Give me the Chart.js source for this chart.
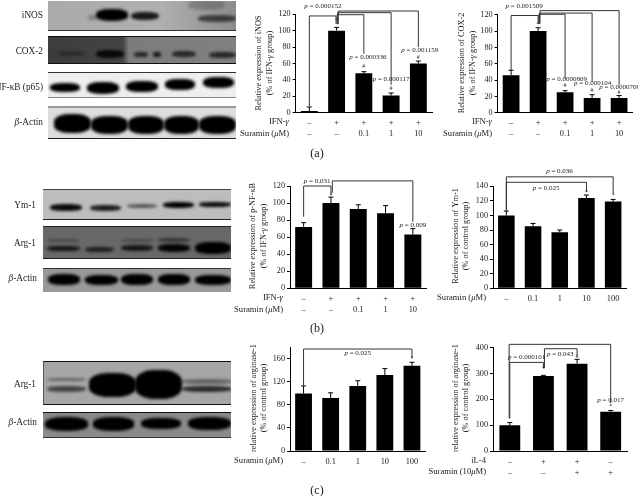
<!DOCTYPE html>
<html>
<head>
<meta charset="utf-8">
<title>Suramin western blots and expression charts</title>
<script src="https://cdn.jsdelivr.net/npm/chart.js@4/dist/chart.umd.min.js"></script>
<style>
    html, body { margin: 0; padding: 0; background: #fff; overflow: hidden; }
    #page { position: relative; width: 638px; height: 496px; filter: blur(0.3px); font-family: 'Liberation Serif', serif; color: #222; }
    #page canvas { position: absolute; }
    .blot { position: absolute; overflow: hidden; box-sizing: border-box; }
    .band { position: absolute; border-radius: 40%; background: #000; filter: blur(1.6px); }
    .blot-label { position: absolute; font-size: 9.3px; white-space: nowrap; transform: translate(-100%, -50%); }
    .panel-label { position: absolute; font-size: 12px; transform: translate(-50%, -50%); }
</style>
</head>
<body>
<div id="page"></div>
<script>
const ifnRow = ['–', '+', '+', '+', '+'];
const suraminRow = ['–', '–', '0.1', '1', '10'];
const suraminDoses = ['–', '0.1', '1', '10', '100'];
const il4Row = ['–', '+', '+', '–'];
const suramin10Row = ['–', '–', '+', '+'];

const inosValues = [2, 100, 48, 21, 60];
const inosUpper = [7, 104, 50, 24, 63];
const cox2Values = [46, 100, 25, 18, 18];
const cox2Upper = [52, 104, 27, 22, 21];
const nfkbValues = [72, 100, 93, 88, 63];
const nfkbUpper = [77, 107, 98, 97, 70];
const ym1Values = [100, 85, 77, 124, 119];
const ym1Upper = [106, 89, 80, 128, 122];
const argValues = [100, 92, 113, 132, 148];
const argUpper = [113, 101, 122, 143, 154];
const argIl4Values = [100, 290, 338, 152];
const argIl4Upper = [110, 293, 355, 157];

// brackets: from/to are bar indexes, level is the y value of the top line, dropFrom/dropTo where the legs stop
const inosBrackets = [
    { from: 0, to: 0.98, level: 118, dropFrom: 8, dropTo: 108 },
    { from: 1.02, to: 2, level: 119.5, dropFrom: 108, dropTo: 72 },
    { from: 1.04, to: 3, level: 122, dropFrom: 108, dropTo: 34 },
    { from: 1.06, to: 4, level: 124, dropFrom: 108, dropTo: 80 }
];
const cox2Brackets = [
    { from: 0, to: 1, level: 119, dropFrom: 52, dropTo: 109 },
    { from: 1.03, to: 2, level: 120.5, dropFrom: 109, dropTo: 42 },
    { from: 1.05, to: 3, level: 122, dropFrom: 109, dropTo: 38 },
    { from: 1.07, to: 4, level: 125, dropFrom: 109, dropTo: 34 }
];
const nfkbBrackets = [
    { from: 0, to: 1, level: 120, dropFrom: 84, dropTo: 110 },
    { from: 1.05, to: 4, level: 126, dropFrom: 112, dropTo: 78 }
];
const ym1Brackets = [
    { from: 0, to: 3, level: 145.5, dropFrom: 105, dropTo: 132.7 },
    { from: 0, to: 4, level: 153, dropFrom: 105, dropTo: 130 }
];
const argBrackets = [
    { from: 0, to: 4, level: 177, dropFrom: 114, dropTo: 161 }
];
const argIl4Brackets = [
    { from: 0, to: 1, level: 343, dropFrom: 126, dropTo: 320 },
    { from: 1.03, to: 2, level: 396, dropFrom: 320, dropTo: 371 },
    { from: -0.02, to: 3, level: 413, dropFrom: 126, dropTo: 185 }
];

// notes: at = bar index, value = y value, stars/hashes and p values
const inosNotes = [
    { at: 0.5, value: 130, text: '*p* = 0.000152' },
    { at: 2.15, value: 67.6, text: '*p* = 0.000336' },
    { at: 3, value: 41.5, text: '*p* = 0.000117' },
    { at: 4.05, value: 76.6, text: '*p* = 0.001159' },
    { at: 1, value: 112, text: '*' },
    { at: 2, value: 57, text: '#' },
    { at: 3, value: 30, text: '#' },
    { at: 4, value: 68, text: '#' }
];
const cox2Notes = [
    { at: 0.48, value: 130, text: '*p* = 0.001509' },
    { at: 2.06, value: 41.6, text: '*p* = 0.0000809' },
    { at: 3.02, value: 36.7, text: '*p* = 0.000104' },
    { at: 4.02, value: 31.8, text: '*p* = 0.0000708' },
    { at: 1, value: 108.6, text: '*' },
    { at: 2, value: 33, text: '#' },
    { at: 3, value: 27, text: '#' },
    { at: 4, value: 25, text: '#' }
];
const nfkbNotes = [
    { at: 0.49, value: 126, text: '*p* = 0.031' },
    { at: 4, value: 74, text: '*p* = 0.009' },
    { at: 1, value: 109, text: '*' }
];
const ym1Notes = [
    { at: 1.49, value: 138, text: '*p* = 0.025' },
    { at: 1.99, value: 161, text: '*p* = 0.036' },
    { at: 3, value: 131, text: '*' },
    { at: 4, value: 127.6, text: '*' }
];
const argNotes = [
    { at: 2, value: 169.6, text: '*p* = 0.025' },
    { at: 4, value: 161, text: '*' }
];
const argIl4Notes = [
    { at: 0.5, value: 364, text: '*p* = 0.000101' },
    { at: 1.5, value: 375, text: '*p* = 0.043' },
    { at: 3, value: 195, text: '*p* = 0.017' },
    { at: 1, value: 320, text: '*' },
    { at: 2, value: 365, text: '#' },
    { at: 3, value: 171, text: '*' }
];

const FONT = "'Liberation Serif', serif";
const $page = document.getElementById('page');

//------------------------------BLOTS------------------------------

// box is [left, top, width, height]; bands are [x1, x2, y1, y2, alpha] in page pixels
const blots = [
    { box: [48, 1, 188, 30], bg: 'linear-gradient(90deg,#aaa 0%,#b0b0b0 60%,#8c8c8c 100%)', edge: 'border-bottom:1px solid #333', bands: [[88, 97, 15, 20, .25], [96, 128, 9, 21, 1], [131, 159, 12, 20, .85], [198, 236, 15, 22, .6], [188, 225, 0, 10, .2]] },
    { box: [48, 36, 188, 28], bg: 'linear-gradient(90deg,#3c3c3c 0%,#444 40%,#7c7c7c 43%,#808080 100%)', edge: 'border-top:1px solid #111;border-bottom:1px solid #111', bands: [[58, 85, 50, 55, .3], [96, 124, 49, 57, .85], [134, 148, 51, 56, .7], [153, 161, 51, 56, .8], [172, 196, 50, 56, .7], [209, 236, 51, 57, .7]] },
    { box: [48, 72, 188, 26], bg: '#eee', edge: 'border-top:1px solid #333;border-bottom:1px solid #888', bands: [[50, 80, 82, 91, 1], [87, 119, 81, 93, 1], [126, 158, 80, 91, 1], [165, 195, 78, 89, 1], [203, 234, 76, 87, 1]] },
    { box: [48, 106, 188, 33], bg: '#ddd', edge: 'border-top:2px solid #999;border-bottom:1px solid #222', bands: [[54, 91, 112, 131, 1], [91, 128, 114, 132, 1], [128, 164, 114, 132, 1], [164, 199, 114, 132, 1], [199, 236, 114, 132, 1]] },

    { box: [43, 189, 188, 31], bg: '#bdbdbd', edge: 'border-top:1px solid #444;border-bottom:1px solid #222', bands: [[50, 82, 203, 210, .95], [90, 121, 204, 210, .85], [127, 157, 203, 207, .55], [163, 194, 201, 207, 1], [199, 231, 201, 206, .95]] },
    { box: [43, 226, 188, 33], bg: '#686868', edge: 'border-top:1px solid #222;border-bottom:1px solid #222', bands: [[47, 80, 245, 250, .8], [47, 80, 238, 241, .3], [85, 114, 246, 251, .7], [121, 153, 244, 250, .8], [121, 153, 238, 241, .3], [158, 190, 243, 251, .95], [158, 190, 237, 241, .5], [195, 231, 241, 253, 1]] },
    { box: [43, 268, 188, 24], bg: '#999', edge: 'border-top:1px solid #333', bands: [[48, 80, 273, 284, 1], [85, 118, 274, 284, 1], [121, 153, 273, 284, 1], [158, 190, 273, 284, 1], [195, 231, 274, 284, 1]] },

    { box: [43, 361, 188, 44], bg: '#a6a6a6', edge: 'border:1px solid #111;border-left-color:#555;border-right:0', bands: [[46, 85, 377, 380, .4], [46, 85, 385, 391, .6], [88, 135, 372, 396, 1], [134, 181, 369, 398, 1], [181, 231, 378, 383, .4], [181, 231, 385, 391, .75]] },
    { box: [43, 412, 188, 26], bg: '#8a8a8a', edge: 'border-top:1px solid #111;border-bottom:1px solid #333', bands: [[45, 88, 416, 430, 1], [93, 134, 416, 430, 1], [141, 181, 417, 428, 1], [188, 231, 416, 429, 1]] }
];

const blotLabels = [
    [43, 15, 'iNOS'], [43, 51, 'COX-2'], [43, 87, 'NF-κB (p65)'], [43, 122, '<i>β</i>-Actin'],
    [36, 205, 'Ym-1'], [36, 243, 'Arg-1'], [37, 278, '<i>β</i>-Actin'],
    [36, 384, 'Arg-1'], [37, 422, '<i>β</i>-Actin']
];

const panelLabels = [[317, 153, '(a)'], [317, 328, '(b)'], [317, 490, '(c)']];

function addBlots() {
    for (const blot of blots) {
        const [left, top, width, height] = blot.box;
        const $blot = document.createElement('div');
        $blot.className = 'blot';
        $blot.style.cssText = `left:${left}px;top:${top}px;width:${width}px;height:${height}px;background:${blot.bg};${blot.edge}`;
        for (const [x1, x2, y1, y2, alpha] of blot.bands) {
            const $band = document.createElement('div');
            $band.className = 'band';
            $band.style.cssText = `left:${x1 - left}px;top:${y1 - top}px;width:${x2 - x1}px;height:${y2 - y1}px;opacity:${alpha}`;
            $blot.appendChild($band);
        }
        $page.appendChild($blot);
    }
    blotLabels.forEach(([x, y, html]) => addText('blot-label', x, y, html));
    panelLabels.forEach(([x, y, html]) => addText('panel-label', x, y, html));
}

function addText(className, x, y, html) {
    const $el = document.createElement('div');
    $el.className = className;
    $el.style.left = x + 'px';
    $el.style.top = y + 'px';
    $el.innerHTML = html;
    $page.appendChild($el);
}

//------------------------------CHARTS------------------------------

// *text* is drawn italic
function drawRichText(ctx, text, x, y, size, align) {
    const parts = text === '*' ? [text] : text.split(/(\*[^*]+\*)/).filter(Boolean);
    const fontFor = (part) => (part !== '*' && part.startsWith('*') ? 'italic ' : '') + size + 'px ' + FONT;
    const cleanPart = (part) => part === '*' ? part : part.replace(/\*/g, '');
    let total = 0;
    for (const part of parts) {
        ctx.font = fontFor(part);
        total += ctx.measureText(cleanPart(part)).width;
    }
    let cursor = align === 'right' ? x - total : x - total / 2;
    ctx.textAlign = 'left';
    ctx.textBaseline = 'middle';
    for (const part of parts) {
        ctx.font = fontFor(part);
        ctx.fillText(cleanPart(part), cursor, y);
        cursor += ctx.measureText(cleanPart(part)).width;
    }
}

const extrasPlugin = {
    id: 'extras',
    afterDatasetsDraw(chart, args, opts) {
        const ctx = chart.ctx;
        const xScale = chart.scales.x;
        const yScale = chart.scales.y;
        const plotX = (at) => xScale.getPixelForValue(at);
        const plotY = (value) => yScale.getPixelForValue(value);

        ctx.save();
        ctx.strokeStyle = '#000';
        ctx.lineWidth = 1;
        opts.upper.forEach((top, i) => {
            const x = plotX(i);
            ctx.beginPath();
            ctx.moveTo(x, plotY(chart.data.datasets[0].data[i]));
            ctx.lineTo(x, plotY(top));
            ctx.moveTo(x - 2.5, plotY(top));
            ctx.lineTo(x + 2.5, plotY(top));
            ctx.stroke();
        });

        ctx.strokeStyle = '#333';
        for (const bracket of opts.brackets) {
            ctx.beginPath();
            ctx.moveTo(plotX(bracket.from), plotY(bracket.dropFrom));
            ctx.lineTo(plotX(bracket.from), plotY(bracket.level));
            ctx.lineTo(plotX(bracket.to), plotY(bracket.level));
            ctx.lineTo(plotX(bracket.to), plotY(bracket.dropTo));
            ctx.stroke();
        }

        ctx.fillStyle = '#222';
        for (const note of opts.notes) {
            const size = note.text.length > 1 ? 7 : 6;
            drawRichText(ctx, note.text, plotX(note.at), plotY(note.value), size, 'center');
        }

        drawRichText(ctx, opts.rows[0], opts.rowRight, opts.rowY[0], 8.6, 'right');
        if (opts.rows[1]) {
            drawRichText(ctx, opts.rows[1], opts.rowRight, opts.rowY[1], 8.6, 'right');
        }

        opts.title.forEach((line, i) => {
            ctx.save();
            ctx.translate(opts.titleX[i], opts.titleY);
            ctx.rotate(-Math.PI / 2);
            drawRichText(ctx, line, 0, 0, 8.3, 'center');
            ctx.restore();
        });
        ctx.restore();
    }
};

function createBarChart(panel) {
    const $canvas = document.createElement('canvas');
    const [left, top, width, height] = panel.canvas;
    const [plotLeft, plotTop, plotRight, plotBottom] = panel.plot;
    $canvas.width = width;
    $canvas.height = height;
    $canvas.style.left = left + 'px';
    $canvas.style.top = top + 'px';
    $page.appendChild($canvas);

    new Chart($canvas, {
        type: 'bar',
        data: {
            labels: panel.labels,
            datasets: [{ data: panel.values, backgroundColor: '#000', barPercentage: panel.barShare, categoryPercentage: 1 }]
        },
        plugins: [extrasPlugin],
        options: {
            responsive: false,
            animation: false,
            layout: { padding: { top: plotTop - top, right: left + width - plotRight, left: 0, bottom: 0 } },
            plugins: {
                legend: { display: false },
                tooltip: { enabled: false },
                extras: {
                    upper: panel.upper,
                    brackets: panel.brackets,
                    notes: panel.notes,
                    rows: panel.rows,
                    rowRight: panel.rowRight - left,
                    rowY: panel.rowY.map((y) => y - top),
                    title: panel.title,
                    titleX: panel.titleX.map((x) => x - left),
                    titleY: panel.titleY - top
                }
            },
            scales: {
                x: {
                    grid: { display: false, drawTicks: false },
                    border: { color: '#000', width: 1 },
                    ticks: {
                        color: '#222',
                        padding: 5,
                        maxRotation: 0,
                        autoSkip: false,
                        font: { family: FONT, size: 8.4, lineHeight: 1.3 }
                    },
                    afterFit: (axis) => { axis.height = top + height - plotBottom; }
                },
                y: {
                    min: 0,
                    max: panel.yMax,
                    grid: { drawOnChartArea: false, drawTicks: true, tickLength: 3, color: '#000' },
                    border: { color: '#000', width: 1 },
                    ticks: {
                        stepSize: panel.yStep,
                        color: '#222',
                        padding: 2,
                        font: { family: FONT, size: 8.2 }
                    },
                    afterFit: (axis) => { axis.width = plotLeft - left; }
                }
            }
        }
    });
}

const twoRows = (first, second) => first.map((label, i) => [label, second[i]]);

const panels = [
    {
        canvas: [222, 0, 224, 150], plot: [295.7, 14.3, 432, 112.7], barShare: 0.62,
        labels: twoRows(ifnRow, suraminRow), values: inosValues, upper: inosUpper, brackets: inosBrackets, notes: inosNotes,
        yMax: 120, yStep: 20, rows: ['IFN-*γ*', 'Suramin (*μ*M)'], rowRight: 289, rowY: [122, 133.5],
        title: ['Relative expression of iNOS', '(% of IFN-*γ* group)'], titleX: [259, 269.5], titleY: 63
    },
    {
        canvas: [425, 0, 213, 150], plot: [497.6, 14.7, 632.6, 112.7], barShare: 0.62,
        labels: twoRows(ifnRow, suraminRow), values: cox2Values, upper: cox2Upper, brackets: cox2Brackets, notes: cox2Notes,
        yMax: 120, yStep: 20, rows: ['IFN-*γ*', 'Suramin (*μ*M)'], rowRight: 492, rowY: [122, 133.5],
        title: ['Relative expression of COX-2', '(% of IFN-*γ* group)'], titleX: [461.5, 472.5], titleY: 63
    },
    {
        canvas: [222, 170, 224, 150], plot: [290, 186, 426.5, 288.3], barShare: 0.62,
        labels: twoRows(ifnRow, suraminRow), values: nfkbValues, upper: nfkbUpper, brackets: nfkbBrackets, notes: nfkbNotes,
        yMax: 120, yStep: 20, rows: ['IFN-*γ*', 'Suramin (*μ*M)'], rowRight: 283, rowY: [298, 309.5],
        title: ['Relative expression of p-NF-κB', '(% of IFN-*γ* group)'], titleX: [252.5, 263.5], titleY: 236
    },
    {
        canvas: [425, 165, 213, 150], plot: [493, 186.3, 626.5, 288.3], barShare: 0.62,
        labels: suraminDoses, values: ym1Values, upper: ym1Upper, brackets: ym1Brackets, notes: ym1Notes,
        yMax: 140, yStep: 20, rows: ['Suramin (*μ*M)'], rowRight: 486, rowY: [298],
        title: ['Relative expression of Ym-1', '(% of control group)'], titleX: [455.7, 466.3], titleY: 236
    },
    {
        canvas: [222, 335, 224, 150], plot: [290, 347.3, 425.5, 451], barShare: 0.62,
        labels: suraminDoses, values: argValues, upper: argUpper, brackets: argBrackets, notes: argNotes,
        yMax: 180, yStep: 20, rows: ['Suramin (*μ*M)'], rowRight: 283, rowY: [461],
        title: ['relative expression of arginase-1', '(% of control group)'], titleX: [254, 263.5], titleY: 398
    },
    {
        canvas: [425, 335, 213, 150], plot: [493, 347.7, 627.5, 451], barShare: 0.62,
        labels: twoRows(il4Row, suramin10Row), values: argIl4Values, upper: argIl4Upper, brackets: argIl4Brackets, notes: argIl4Notes,
        yMax: 400, yStep: 100, rows: ['iL-4', 'Suramin (10*μ*M)'], rowRight: 486, rowY: [461, 471.7],
        title: ['relative expression of arginase-1', '(% of control group)'], titleX: [456.3, 466.3], titleY: 398
    }
];

addBlots();
panels.forEach(createBarChart);
</script>
</body>
</html>
